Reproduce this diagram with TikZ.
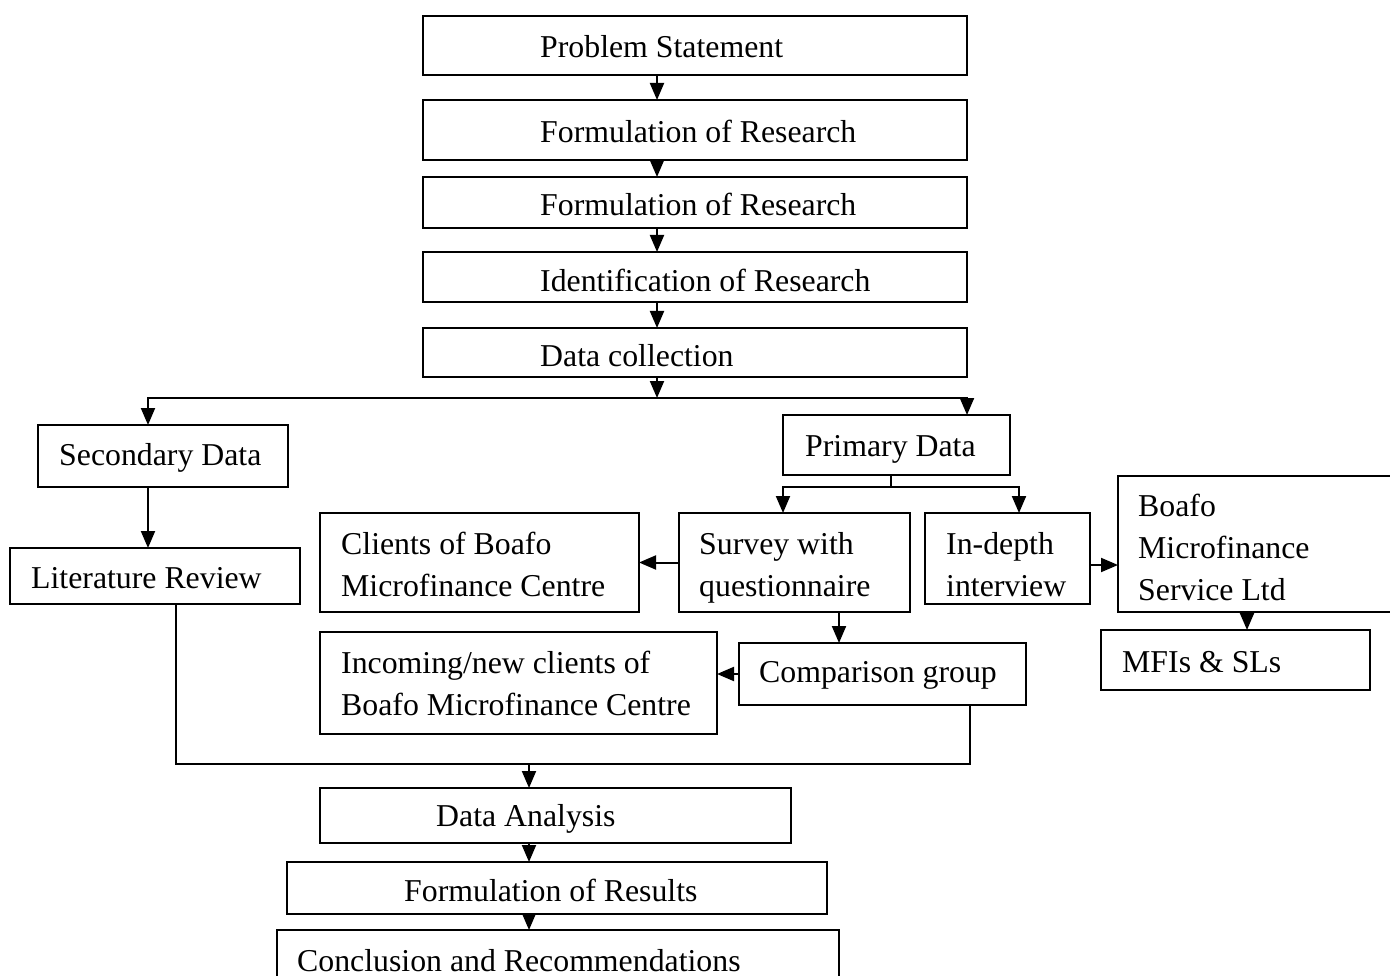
\documentclass[tikz,border=0pt]{standalone}
\usepackage{fontspec}
\setmainfont{Liberation Serif}
\usetikzlibrary{arrows.meta}

% box given by its corners (x1,y1)-(x2,y2), y measured downwards
\newcommand\flowbox[5]{%
  \node[box, minimum width={(#4)-(#2)}, minimum height={(#5)-(#3)}]
    (#1) at ({((#2)+(#4))/2},{((#3)+(#5))/2}) {};}
% left-aligned label placed a given distance inside the box,
% optional first argument moves it down a little
\newcommand\boxtext[4][0]{%
  \node[txt, anchor=west] (#2-t) at ([xshift=#3, yshift=-#1]#2.west) {#4};}

\begin{document}
\begin{tikzpicture}[x=1pt, y=-1pt,
  box/.style={draw, line width=1.9pt, inner sep=0pt, outer sep=0pt},
  txt/.style={inner sep=0pt, align=left, font=\fontsize{31.8}{42}\selectfont},
  line/.style={line width=2pt},
  arr/.style={line width=2pt, -{Triangle[width=14pt,length=17pt]}}]

\useasboundingbox (0,0) rectangle (1390,976);
\clip (0,0) rectangle (1390,976);

% main column
\flowbox{ps}{423}{16}{967}{75}     \boxtext[1]{ps}{117}{Problem Statement}
\flowbox{fr1}{423}{100}{967}{160}  \boxtext[1]{fr1}{117}{Formulation of Research}
\flowbox{fr2}{423}{177}{967}{228}  \boxtext[2]{fr2}{117}{Formulation of Research}
\flowbox{ir}{423}{252}{967}{302}   \boxtext[3]{ir}{117}{Identification of Research}
\flowbox{dc}{423}{328}{967}{377}   \boxtext[3]{dc}{117}{Data collection}

% secondary branch
\flowbox{sec}{38}{425}{288}{487}   \boxtext[2]{sec}{21}{Secondary Data}
\flowbox{lit}{10}{548}{300}{604}   \boxtext[2]{lit}{21}{Literature Review}

% primary branch
\flowbox{pd}{783}{415}{1010}{475}  \boxtext[4]{pd}{22}{Primary Data}
\flowbox{cl}{320}{513}{639}{612}   \boxtext[2]{cl}{21}{Clients of Boafo\\Microfinance Centre}
\flowbox{sv}{679}{513}{910}{612}   \boxtext[5]{sv}{20}{Survey with\\questionnaire}
\flowbox{idi}{925}{513}{1090}{604} \boxtext[6]{idi}{21}{In-depth\\interview}
\flowbox{bo}{1118}{476}{1398}{612} \boxtext[3]{bo}{20}{Boafo\\Microfinance\\Service Ltd}
\flowbox{mf}{1101}{630}{1370}{690} \boxtext[2]{mf}{21}{MFIs \& SLs}
\flowbox{inc}{320}{632}{717}{734}  \boxtext{inc}{21}{Incoming/new clients of\\Boafo Microfinance Centre}
\flowbox{cg}{739}{643}{1026}{705}  \boxtext[1]{cg}{20}{Comparison group}

% final column
\flowbox{da}{320}{788}{791}{843}   \boxtext[3]{da}{116}{Data Analysis}
\flowbox{res}{287}{862}{827}{914}  \boxtext[2]{res}{117}{Formulation of Results}
\flowbox{con}{277}{930}{839}{992}  \boxtext{con}{20}{Conclusion and Recommendations}

% guide coordinates for the connectors
\coordinate (col) at (657,0);
\coordinate (colb) at (529,0);
\coordinate (sp) at (657,398);
\coordinate (sx) at (148,0);
\coordinate (px) at (967,0);
\coordinate (pm) at (891,487);
\coordinate (plx) at (783,0);
\coordinate (prx) at (1019,0);
\coordinate (iy) at (0,565);
\coordinate (bx) at (1247,0);
\coordinate (svx) at (839,0);
\coordinate (ml) at (176,764);
\coordinate (mr) at (970,764);
\coordinate (mc) at (529,764);

% main column arrows
\draw[arr] (ps.south -| col) -- (fr1.north -| col);
\draw[arr] (fr1.south -| col) -- (fr2.north -| col);
\draw[arr] (fr2.south -| col) -- (ir.north -| col);
\draw[arr] (ir.south -| col) -- (dc.north -| col);
\draw[arr] (dc.south -| col) -- (sp);

% split into secondary and primary data
\draw[arr] (sp) -| (sec.north -| sx);
\draw[arr] (sp) -| (pd.north -| px);
\draw[arr] (sec.south -| sx) -- (lit.north -| sx);

% primary data methods
\draw[line] (pd.south -| pm) -- (pm);
\draw[arr] (pm) -| (sv.north -| plx);
\draw[arr] (pm) -| (idi.north -| prx);
\draw[arr] (sv.west) -- (cl.east);
\draw[arr] (sv.south -| svx) -- (cg.north -| svx);
\draw[arr] (cg.west) -- (cg.west -| inc.east);
\draw[arr] (idi.east |- iy) -- (bo.west |- iy);
\draw[arr] (bo.south -| bx) -- (mf.north -| bx);

% merge towards the analysis
\draw[line] (lit.south -| ml) -- (ml) -- (mr) -- (cg.south -| mr);
\draw[arr] (mc) -- (da.north -| colb);
\draw[arr] (da.south -| colb) -- (res.north -| colb);
\draw[arr] (res.south -| colb) -- (con.north -| colb);
\end{tikzpicture}
\end{document}
